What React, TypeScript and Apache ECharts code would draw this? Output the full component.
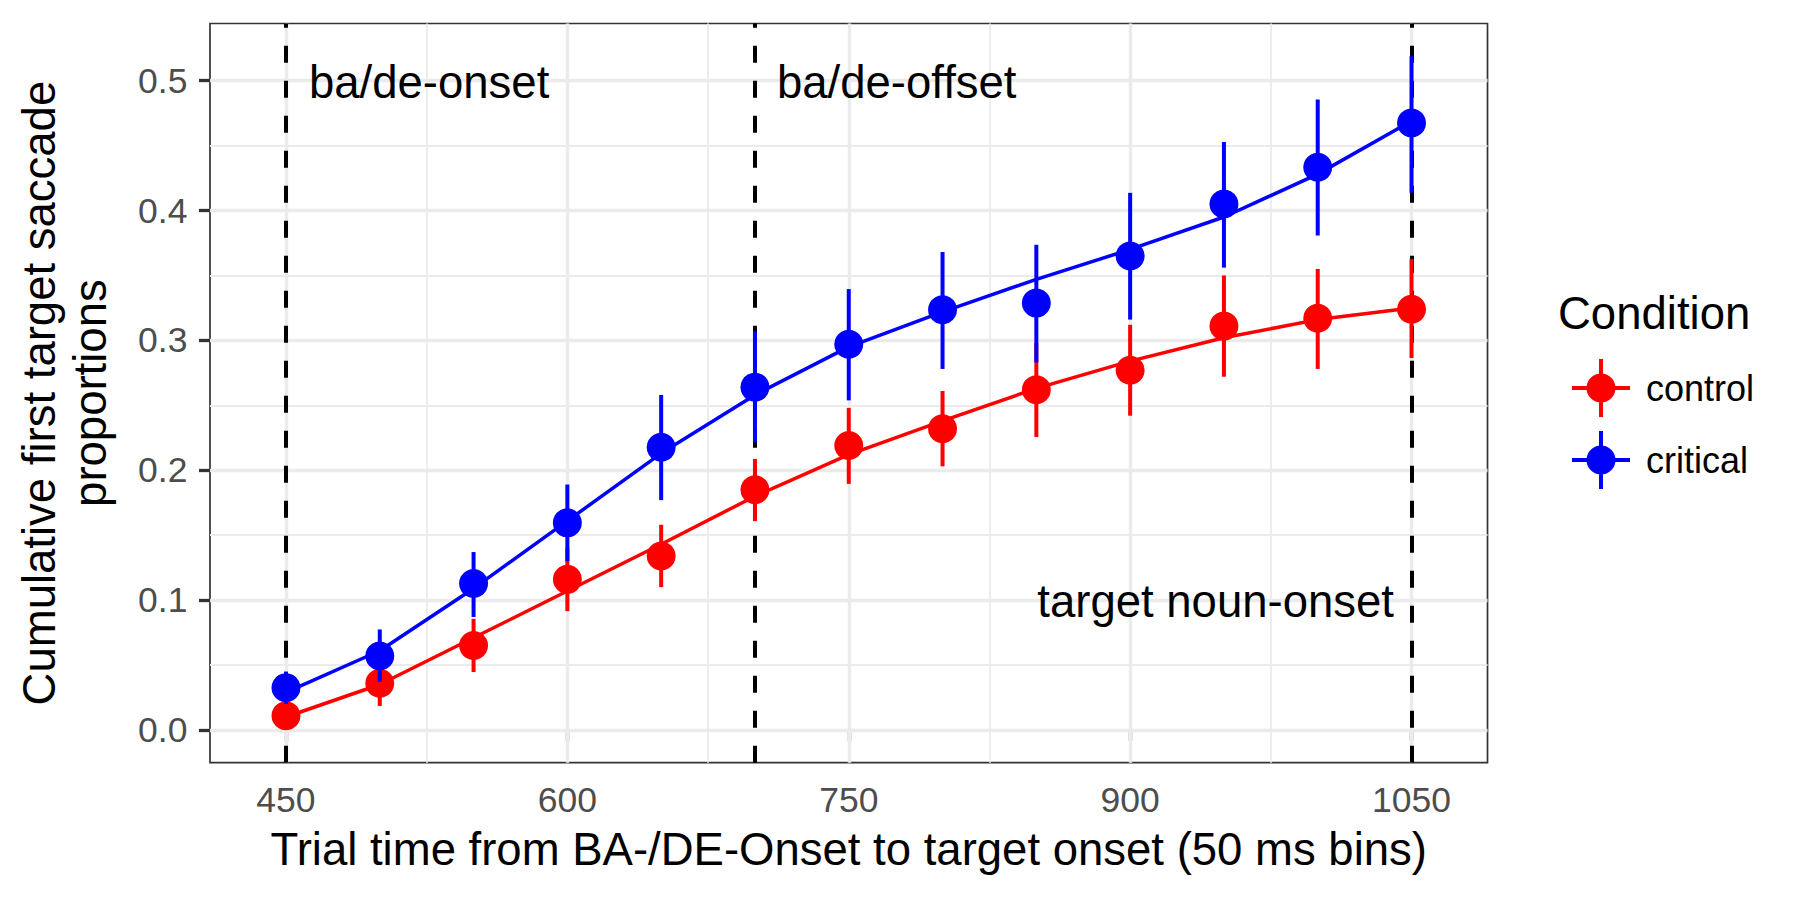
import React, { useEffect, useRef } from 'react';
import * as echarts from 'echarts';

// ---- data ----
const bins = [450, 500, 550, 600, 650, 700, 750, 800, 850, 900, 950, 1000, 1050];

const controlMean = [0.011, 0.036, 0.065, 0.116, 0.134, 0.185, 0.219, 0.232, 0.262, 0.277, 0.311, 0.317, 0.324];
const controlLow = [0.003, 0.0185, 0.0446, 0.0915, 0.11, 0.1608, 0.1895, 0.203, 0.2256, 0.242, 0.272, 0.278, 0.2864];
const controlHigh = [0.019, 0.053, 0.0856, 0.14, 0.158, 0.2087, 0.248, 0.261, 0.298, 0.312, 0.35, 0.355, 0.3626];
const controlFit = [0.01, 0.035, 0.071, 0.107, 0.143, 0.18, 0.212, 0.238, 0.263, 0.284, 0.302, 0.316, 0.325];

const criticalMean = [0.0326, 0.057, 0.1128, 0.1595, 0.2177, 0.264, 0.297, 0.3236, 0.3287, 0.365, 0.405, 0.4333, 0.4674];
const criticalLow = [0.02, 0.037, 0.087, 0.13, 0.177, 0.2215, 0.2538, 0.278, 0.283, 0.316, 0.356, 0.3808, 0.4136];
const criticalHigh = [0.045, 0.0774, 0.137, 0.189, 0.258, 0.307, 0.3395, 0.368, 0.3736, 0.4136, 0.4528, 0.4854, 0.5187];
const criticalFit = [0.029, 0.061, 0.109, 0.161, 0.213, 0.258, 0.295, 0.322, 0.347, 0.37, 0.395, 0.428, 0.469];

const xTicks = [450, 600, 750, 900, 1050];
const xMinor = [525, 675, 825, 975];
const yTicks = [0, 0.1, 0.2, 0.3, 0.4, 0.5];
const yMinor = [0.05, 0.15, 0.25, 0.35, 0.45];
const eventLines = [450, 700, 1050];

const conditions = ['control', 'critical'];
const colors = ['#FF0000', '#0000FF'];

const FONT = '"Liberation Sans", Arial, Helvetica, sans-serif';
const LEGEND_ICON =
  'path://M0,27 L58,27 L58,31 L0,31 Z M27,0 L31,0 L31,58 L27,58 Z M43.5,29 A14.5,14.5 0 1 1 14.5,29 A14.5,14.5 0 1 1 43.5,29 Z';

function errSeries(name: string, color: string, low: number[], high: number[]) {
  return {
    name,
    type: 'custom',
    z: 3,
    silent: true,
    data: bins.map((b, i) => [b, low[i], high[i]]),
    encode: { x: 0, y: [1, 2] },
    renderItem: (_params: any, api: any) => {
      const x = api.value(0);
      const p1 = api.coord([x, api.value(1)]);
      const p2 = api.coord([x, api.value(2)]);
      return {
        type: 'line',
        shape: { x1: p1[0], y1: p1[1], x2: p2[0], y2: p2[1] },
        style: { stroke: color, lineWidth: 4 },
      };
    },
  };
}

export default function App() {
  const ref = useRef<HTMLDivElement>(null);

  useEffect(() => {
    const chart = echarts.init(ref.current!, null, { renderer: 'svg' });

    const gridLineData = [
      ...xTicks.map((v) => ({ xAxis: v, lineStyle: { color: '#EBEBEB', width: 3.4, type: 'solid' } })),
      ...xMinor.map((v) => ({ xAxis: v, lineStyle: { color: '#EBEBEB', width: 1.8, type: 'solid' } })),
      ...yTicks.map((v) => ({ yAxis: v, lineStyle: { color: '#EBEBEB', width: 3.4, type: 'solid' } })),
      ...yMinor.map((v) => ({ yAxis: v, lineStyle: { color: '#EBEBEB', width: 1.8, type: 'solid' } })),
    ];

    const option: any = {
      animation: false,
      backgroundColor: '#FFFFFF',
      textStyle: { fontFamily: FONT },
      grid: {
        left: 210,
        right: 312.5,
        top: 23.5,
        bottom: 137.3,
        containLabel: false,
        outerBoundsMode: 'none',
        show: true,
        borderColor: '#333333',
        borderWidth: 1.7,
        backgroundColor: 'transparent',
      },
      xAxis: {
        type: 'value',
        min: 409.5,
        max: 1090.5,
        name: 'Trial time from BA-/DE-Onset to target onset (50 ms bins)',
        nameLocation: 'middle',
        nameGap: 63.5,
        nameTextStyle: { fontSize: 45.5, color: '#000000', fontFamily: FONT, lineHeight: 46 },
        axisLine: { show: false },
        splitLine: { show: false },
        axisTick: {
          show: true,
          customValues: xTicks,
          length: 11,
          lineStyle: { color: '#333333', width: 3.3 },
        },
        axisLabel: {
          customValues: xTicks,
          margin: 19,
          fontSize: 35.5,
          lineHeight: 36,
          color: '#4D4D4D',
          fontFamily: FONT,
          formatter: (v: number) => String(v),
        },
      },
      yAxis: {
        type: 'value',
        min: -0.0252,
        max: 0.544,
        name: 'Cumulative first target saccade\nproportions',
        nameLocation: 'middle',
        nameGap: 93.3,
        nameRotate: 90,
        nameTextStyle: { fontSize: 45.5, color: '#000000', fontFamily: FONT, lineHeight: 51.7, align: 'center' },
        axisLine: { show: false },
        splitLine: { show: false },
        axisTick: {
          show: true,
          customValues: yTicks,
          length: 11,
          lineStyle: { color: '#333333', width: 3.3 },
        },
        axisLabel: {
          customValues: yTicks,
          margin: 22.6,
          fontSize: 35.5,
          color: '#4D4D4D',
          fontFamily: FONT,
          formatter: (v: number) => v.toFixed(1),
        },
      },
      legend: {
        orient: 'vertical',
        left: 1567,
        top: 354,
        itemWidth: 58,
        itemHeight: 58,
        itemGap: 14,
        selectedMode: false,
        data: conditions.map((c) => ({ name: c, icon: LEGEND_ICON })),
        textStyle: { fontSize: 36, color: '#000000', fontFamily: FONT, padding: [0, 0, 0, 11] },
      },
      graphic: [
        {
          type: 'text',
          z: 10,
          x: 309,
          y: 82.5,
          style: { text: 'ba/de-onset', fontSize: 45.5, fontFamily: FONT, fill: '#000000', align: 'left', verticalAlign: 'middle' },
        },
        {
          type: 'text',
          z: 10,
          x: 777,
          y: 82.5,
          style: { text: 'ba/de-offset', fontSize: 45.5, fontFamily: FONT, fill: '#000000', align: 'left', verticalAlign: 'middle' },
        },
        {
          type: 'text',
          z: 10,
          x: 1394,
          y: 601.2,
          style: { text: 'target noun-onset', fontSize: 45.5, fontFamily: FONT, fill: '#000000', align: 'right', verticalAlign: 'middle' },
        },
        {
          type: 'text',
          z: 10,
          x: 1558,
          y: 313.5,
          style: { text: 'Condition', fontSize: 45.5, fontFamily: FONT, fill: '#000000', align: 'left', verticalAlign: 'middle' },
        },
      ],
      series: [
        {
          name: 'gridlines',
          type: 'line',
          data: [],
          silent: true,
          markLine: {
            z: 1,
            silent: true,
            symbol: ['none', 'none'],
            label: { show: false },
            emphasis: { disabled: true },
            data: gridLineData,
          },
        },
        {
          name: 'events',
          type: 'line',
          data: [],
          silent: true,
          markLine: {
            z: 1.5,
            silent: true,
            symbol: ['none', 'none'],
            label: { show: false },
            emphasis: { disabled: true },
            lineStyle: { color: '#000000', width: 4, type: [17, 18] },
            data: eventLines.map((v) => ({ xAxis: v })),
          },
        },
        {
          name: 'control fit',
          type: 'line',
          z: 2,
          showSymbol: false,
          silent: true,
          data: bins.map((b, i) => [b, controlFit[i]]),
          lineStyle: { color: colors[0], width: 3.5 },
          itemStyle: { color: colors[0] },
        },
        {
          name: 'critical fit',
          type: 'line',
          z: 2,
          showSymbol: false,
          silent: true,
          data: bins.map((b, i) => [b, criticalFit[i]]),
          lineStyle: { color: colors[1], width: 3.5 },
          itemStyle: { color: colors[1] },
        },
        errSeries('control err', colors[0], controlLow, controlHigh),
        {
          name: 'control',
          type: 'scatter',
          z: 3,
          symbol: 'circle',
          symbolSize: 29,
          silent: true,
          data: bins.map((b, i) => [b, controlMean[i]]),
          itemStyle: { color: colors[0], opacity: 1 },
        },
        { ...errSeries('critical err', colors[1], criticalLow, criticalHigh), z: 4 },
        {
          name: 'critical',
          type: 'scatter',
          z: 4,
          symbol: 'circle',
          symbolSize: 29,
          silent: true,
          data: bins.map((b, i) => [b, criticalMean[i]]),
          itemStyle: { color: colors[1], opacity: 1 },
        },
      ],
    };

    chart.setOption(option);
    return () => chart.dispose();
  }, []);

  return (
    <div
      ref={ref}
      style={{ position: 'absolute', left: 0, top: 0, width: 1800, height: 900, background: '#FFFFFF' }}
    />
  );
}
